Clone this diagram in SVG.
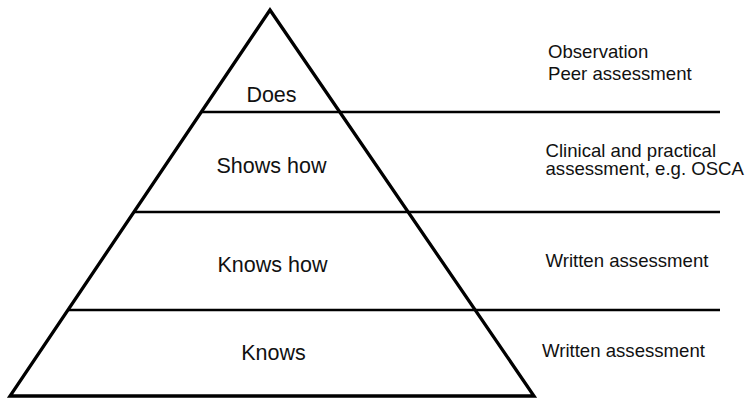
<svg xmlns="http://www.w3.org/2000/svg" width="748" height="398" viewBox="0 0 748 398">
<style>
.edge{stroke:#000;stroke-width:3.3;fill:none;stroke-linejoin:miter}
.rule{stroke:#000;stroke-width:2.6;fill:none}
.lvl{font-family:"Liberation Sans",Arial,sans-serif;font-size:21.5px;fill:#111;text-anchor:middle}
.asm{font-family:"Liberation Sans",Arial,sans-serif;font-size:18.6px;fill:#111}
</style>
<rect width="748" height="398" fill="#fff"/>
<g id="connectors">
<line class="rule" x1="201" y1="112" x2="720" y2="112"/>
<line class="rule" x1="134" y1="212" x2="720" y2="212"/>
<line class="rule" x1="68" y1="310" x2="720" y2="310"/>
</g>
<g id="pyramid">
<polygon class="edge" points="270,10 534,396 10,396"/>
</g>
<g id="does"><text class="lvl" x="271.5" y="102">Does</text></g>
<g id="shows-how"><text class="lvl" x="271.5" y="173">Shows how</text></g>
<g id="knows-how"><text class="lvl" x="272.5" y="272">Knows how</text></g>
<g id="knows"><text class="lvl" x="273.5" y="360">Knows</text></g>
<g id="label-does"><text class="asm" x="548" y="58">Observation</text><text class="asm" x="548" y="79.5">Peer assessment</text></g>
<g id="label-shows"><text class="asm" x="545.5" y="156.5">Clinical and practical</text><text class="asm" x="545.5" y="174.5">assessment, e.g. OSCA</text></g>
<g id="label-knowshow"><text class="asm" x="545.5" y="266.5">Written assessment</text></g>
<g id="label-knows"><text class="asm" x="542" y="357">Written assessment</text></g>
</svg>
